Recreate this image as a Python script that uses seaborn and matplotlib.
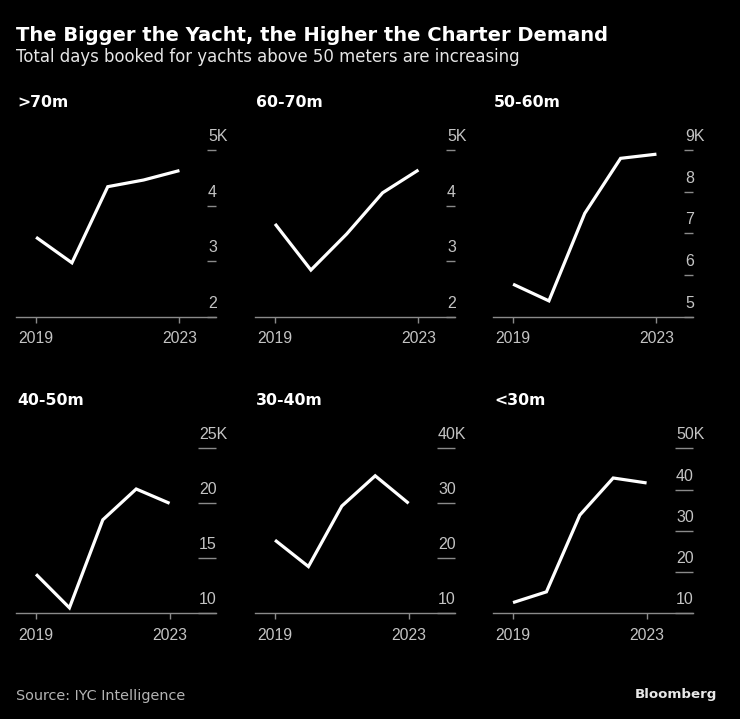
import matplotlib
matplotlib.use("Agg")
import matplotlib.pyplot as plt
import matplotlib.transforms as mtransforms
import seaborn as sns
import pandas as pd

# ---- data (thousands of days booked) ----
years = [2019, 2020, 2021, 2022, 2023]
categories = [">70m", "60-70m", "50-60m", "40-50m", "30-40m", "<30m"]
days_over70 = [3.43, 2.97, 4.34, 4.46, 4.63]
days_60_70 = [3.67, 2.84, 3.49, 4.23, 4.64]
days_50_60 = [5.78, 5.38, 7.48, 8.80, 8.90]
days_40_50 = [13.55, 10.5, 18.5, 21.3, 20.0]
days_30_40 = [23.3, 18.5, 29.5, 35.0, 30.0]
days_under30 = [12.6, 15.2, 33.8, 42.8, 41.6]
series = [days_over70, days_60_70, days_50_60, days_40_50, days_30_40, days_under30]
yticks = [[2, 3, 4, 5], [2, 3, 4, 5], [5, 6, 7, 8, 9],
          [10, 15, 20, 25], [10, 20, 30, 40], [10, 20, 30, 40, 50]]
xtick_years = [2019, 2023]

title = "The Bigger the Yacht, the Higher the Charter Demand"
subtitle = "Total days booked for yachts above 50 meters are increasing"
source = "Source: IYC Intelligence"

sns.set_theme(style="dark")
plt.rcParams["font.family"] = ["DejaVu Sans"]
BG = "#000000"
TICKC = "#c4c4c4"
AXC = "#8a8a8a"

W, H = 740, 719
DPI = 100
fig = plt.figure(figsize=(W / DPI, H / DPI), dpi=DPI, facecolor=BG)

lefts = [16, 255, 493]
rows = [(150, 316.7), (448.3, 613.3)]
xlims = [(2018.44, 2024.02), (2018.4, 2024.39)]
stub_px = [9, 9, 9, 18, 18, 18]
title_base = [106.7, 405]

for i, (cat, vals, yt) in enumerate(zip(categories, series, yticks)):
    r, c = divmod(i, 3)
    top, bot = rows[r]
    ax = fig.add_axes([lefts[c] / W, 1 - bot / H, 200 / W, (bot - top) / H])
    ax.set_facecolor(BG)
    df = pd.DataFrame({"year": years, "days": vals})
    sns.lineplot(data=df, x="year", y="days", ax=ax, color="white",
                 linewidth=2.3, solid_joinstyle="miter", solid_capstyle="butt")
    ax.set_xlim(*xlims[r])
    ax.set_ylim(yt[0], yt[-1])
    ax.set_xlabel("")
    ax.set_ylabel("")
    for s in ["top", "left", "right"]:
        ax.spines[s].set_visible(False)
    ax.spines["bottom"].set_color(AXC)
    ax.spines["bottom"].set_linewidth(1.0)
    ax.grid(False)
    ax.set_xticks(xtick_years)
    ax.set_xticklabels([str(y) for y in xtick_years])
    ax.tick_params(axis="x", direction="out", length=4.5, width=1.0, color=AXC,
                   labelcolor=TICKC, labelsize=11.3, pad=6, bottom=True)
    for lbl in ax.get_xticklabels():
        lbl.set_fontfamily("Liberation Sans")
    ax.yaxis.tick_right()
    ax.set_yticks(yt)
    ax.tick_params(axis="y", direction="in", length=stub_px[i] * 0.72, width=1.0,
                   color=AXC, right=True, left=False, labelright=False, labelleft=False)
    trans = mtransforms.blended_transform_factory(ax.transAxes, ax.transData) + \
        mtransforms.ScaledTranslation(-(stub_px[i] - 1) / DPI, 9 / DPI, fig.dpi_scale_trans)
    for k, v in enumerate(yt):
        lab = f"{v}K" if k == len(yt) - 1 else f"{v}"
        ax.text(1, v, lab, transform=trans, ha="left", va="baseline",
                color=TICKC, fontsize=11.5, family="Liberation Sans", clip_on=False)
    fig.text((lefts[c] + 1) / W, 1 - title_base[r] / H, cat, ha="left", va="baseline",
             color="white", fontsize=11.3, fontweight="bold")

fig.text(16 / W, 1 - 41 / H, title, ha="left", va="baseline", color="white",
         fontsize=14.0, fontweight="bold")
fig.text(16 / W, 1 - 62.3 / H, subtitle, ha="left", va="baseline", color="#e6e6e6",
         fontsize=11.9)
fig.text(16 / W, 1 - 700 / H, source, ha="left", va="baseline", color="#b4b4b4",
         fontsize=10.4)
fig.text(716.7 / W, 1 - 698 / H, "Bloomberg", ha="right", va="baseline", color="#e8e8e8",
         fontsize=9.6, fontweight="bold")

fig.savefig("out.png", dpi=DPI, facecolor=BG)
